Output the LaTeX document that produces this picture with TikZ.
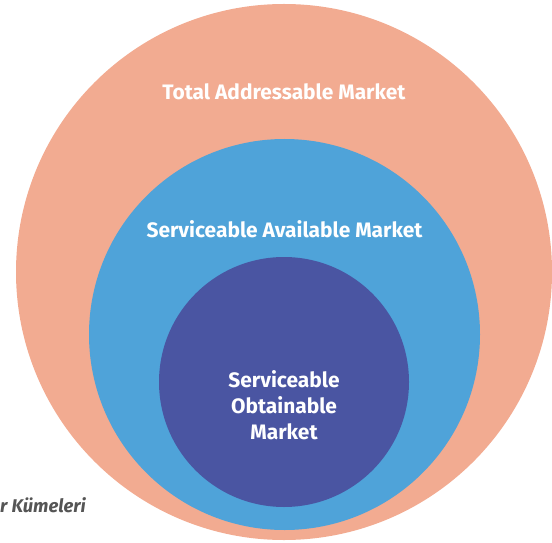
\documentclass[tikz,border=0pt]{standalone}
\usepackage{fontspec}
\setmainfont{Fira Sans}
\usepackage{tikz}

\definecolor{tamsalmon}{HTML}{F2AB91}
\definecolor{samblue}{HTML}{4FA3D9}
\definecolor{sompurple}{HTML}{4A55A2}
\definecolor{notegray}{HTML}{555555}

\tikzset{
  market/.style={text=white, font=\fontsize{21}{26}\selectfont\bfseries, align=center},
}

\begin{document}
\begin{tikzpicture}[x=1bp, y=-1bp]
        \useasboundingbox (0,0) rectangle (552,543);

        % TAM
        \fill[tamsalmon] (284,272) circle (268);
        \node[market] (tam) at (284,92) {Total Addressable Market};

        % SAM
        \fill[samblue] (284.5,334.5) circle (195.5);
        \node[market] (sam) at (284.5,229) {Serviceable Available Market};

        % SOM
        \fill[sompurple] (284,382) circle (125);
        \node[market] (som) at (284,405) {Serviceable\\Obtainable\\Market};

        \node[anchor=west, inner sep=0pt, text=notegray, font=\fontsize{18.5}{20}\selectfont\bfseries\itshape] (note) at (0,505) {r Kümeleri};

    \end{tikzpicture}
\end{document}
